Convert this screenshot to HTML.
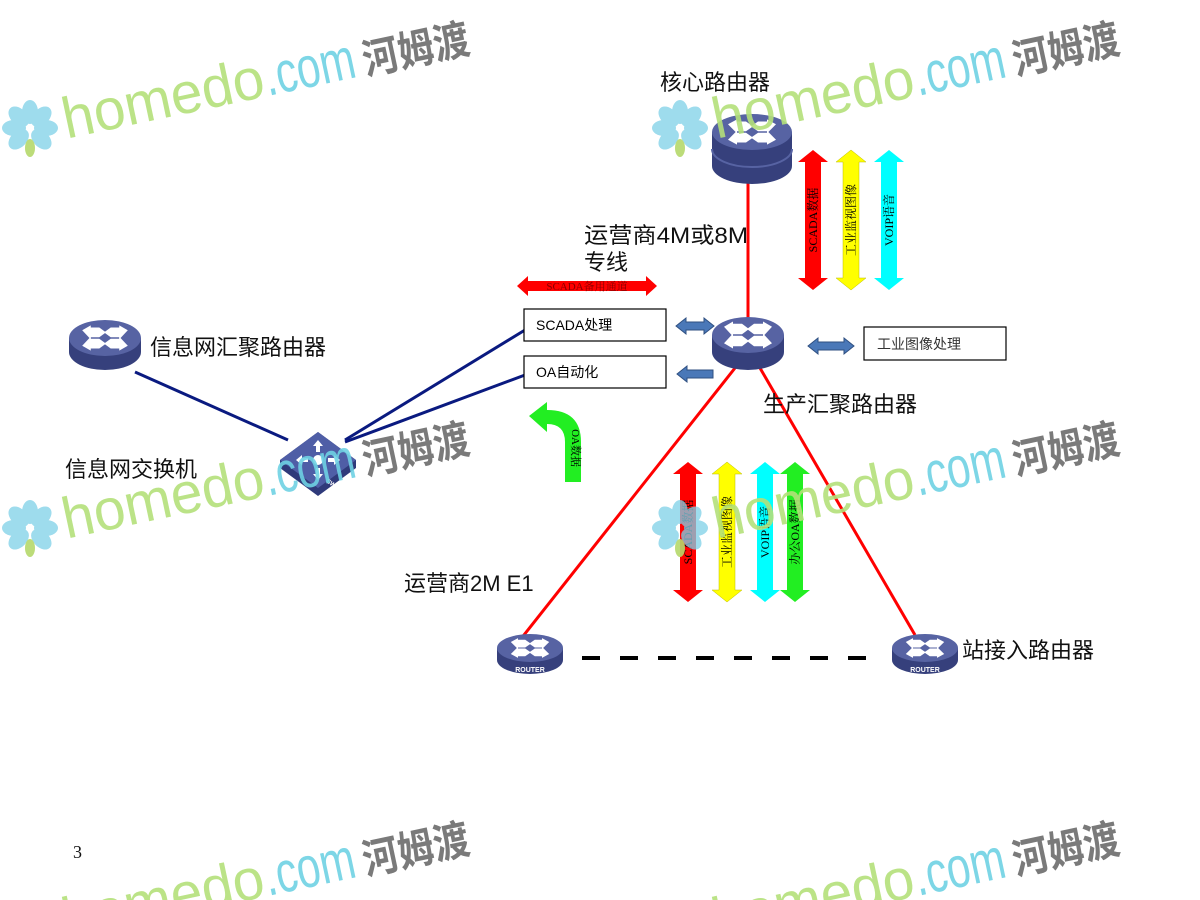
<!DOCTYPE html>
<html><head><meta charset="utf-8"><style>
html,body{margin:0;padding:0;background:#fff;overflow:hidden;width:1200px;height:900px;}
svg{display:block;font-family:"Liberation Sans","Noto Sans CJK SC",sans-serif;}
</style></head><body>
<svg width="1200" height="900" viewBox="0 0 1200 900" xmlns="http://www.w3.org/2000/svg">
<defs>
<g id="xarrows" fill="#fff">
  <path d="M-24,-11 l9,-7 v3 h9 l7,7 l-7,7 h-9 v3 z"/>
  <path d="M24,-11 l-9,-7 v3 h-9 l-7,7 l7,7 h9 v3 z"/>
  <path d="M-24,11 l9,7 v-3 h9 l7,-7 l-7,-7 h-9 v-3 z"/>
  <path d="M24,11 l-9,7 v-3 h-9 l-7,-7 l7,-7 h9 v-3 z"/>
</g>
<g id="dbl">
  <path d="M0,0 l15,12 h-7 v116 h7 l-15,12 l-15,-12 h7 v-116 h-7 z"/>
</g>
<g id="wm">
  <g fill="#7fd0e8" opacity="0.85">
    <ellipse cx="30" cy="112" rx="8" ry="12"/>
    <ellipse cx="30" cy="112" rx="8" ry="12" transform="rotate(45 30 128)"/>
    <ellipse cx="30" cy="112" rx="8" ry="12" transform="rotate(90 30 128)"/>
    <ellipse cx="30" cy="112" rx="8" ry="12" transform="rotate(135 30 128)"/>
    <ellipse cx="30" cy="112" rx="8" ry="12" transform="rotate(-45 30 128)"/>
    <ellipse cx="30" cy="112" rx="8" ry="12" transform="rotate(-90 30 128)"/>
    <ellipse cx="30" cy="112" rx="8" ry="12" transform="rotate(-135 30 128)"/>
  </g>
  <ellipse cx="30" cy="148" rx="5" ry="9" fill="#b5d86a"/>
  <g transform="rotate(-12 70 135)">
    <text x="66" y="138" font-size="58" fill="#b4e07a" textLength="205" lengthAdjust="spacingAndGlyphs">homedo</text>
    <text x="272" y="138" font-size="58" fill="#6fd2e4" textLength="92" lengthAdjust="spacingAndGlyphs">.com</text>
    <text x="372" y="138" font-size="42" font-weight="bold" fill="#6b6b6b" textLength="108" lengthAdjust="spacingAndGlyphs">河姆渡</text>
  </g>
</g>
</defs>

<!-- connectors -->
<line x1="748" y1="175" x2="748" y2="325" stroke="#f00" stroke-width="3"/>
<line x1="735" y1="368" x2="520" y2="640" stroke="#f00" stroke-width="3"/>
<line x1="760" y1="368" x2="915" y2="635" stroke="#f00" stroke-width="3"/>
<line x1="582" y1="658" x2="870" y2="658" stroke="#000" stroke-width="4" stroke-dasharray="18,20"/>
<line x1="135" y1="372" x2="288" y2="440" stroke="#0a1a80" stroke-width="3"/>
<line x1="345" y1="440" x2="525" y2="330" stroke="#0a1a80" stroke-width="3"/>
<line x1="345" y1="442" x2="525" y2="375" stroke="#0a1a80" stroke-width="3"/>

<!-- routers -->
<g transform="translate(752,132)">
  <path d="M-40,0 v34 a40,18 0 0 0 80,0 v-34 z" fill="#36407c"/>
  <path d="M-40,17 a40,18 0 0 0 80,0" fill="none" stroke="#5763a3" stroke-width="2"/>
  <ellipse cx="0" cy="0" rx="40" ry="18" fill="#5763a3"/>
  <use href="#xarrows" transform="scale(1,0.7)"/>
</g>
<g transform="translate(748,335)">
  <path d="M-36,0 v17 a36,18 0 0 0 72,0 v-17 z" fill="#36407c"/>
  <ellipse cx="0" cy="0" rx="36" ry="18" fill="#5763a3"/>
  <use href="#xarrows" transform="scale(1,0.75)"/>
</g>
<g transform="translate(105,338)">
  <path d="M-36,0 v14 a36,18 0 0 0 72,0 v-14 z" fill="#36407c"/>
  <ellipse cx="0" cy="0" rx="36" ry="18" fill="#5763a3"/>
  <use href="#xarrows" transform="scale(0.95,0.7)"/>
</g>
<g transform="translate(530,648)">
  <path d="M-33,0 v12 a33,14 0 0 0 66,0 v-12 z" fill="#36407c"/>
  <ellipse cx="0" cy="0" rx="33" ry="14" fill="#5763a3"/>
  <use href="#xarrows" transform="scale(0.8,0.55)"/>
  <text x="0" y="24" font-size="7" font-weight="bold" fill="#fff" text-anchor="middle">ROUTER</text>
</g>
<g transform="translate(925,648)">
  <path d="M-33,0 v12 a33,14 0 0 0 66,0 v-12 z" fill="#36407c"/>
  <ellipse cx="0" cy="0" rx="33" ry="14" fill="#5763a3"/>
  <use href="#xarrows" transform="scale(0.8,0.55)"/>
  <text x="0" y="24" font-size="7" font-weight="bold" fill="#fff" text-anchor="middle">ROUTER</text>
</g>
<!-- switch -->
<g transform="translate(318,460)">
  <path d="M-38,0 L0,-28 L38,0 L38,8 L0,36 L-38,8 z" fill="#2f3a7a"/>
  <path d="M-38,0 L0,-28 L38,0 L0,28 z" fill="#4f5ea6"/>
  <circle cx="0" cy="0" r="5" fill="#fff"/>
  <path d="M0,-20 l5,6 h-3 v6 h-4 v-6 h-3 z M0,20 l5,-6 h-3 v-6 h-4 v6 h-3 z M-22,0 l6,-5 v3 h6 v4 h-6 v3 z M22,0 l-6,-5 v3 h-6 v4 h6 v3 z" fill="#fff"/>
  <text x="8" y="22" font-size="6" font-weight="bold" fill="#fff" transform="rotate(35 8 22)">SWITCH</text>
</g>

<!-- boxes -->
<rect x="524" y="309" width="142" height="32" fill="#fff" stroke="#000" stroke-width="1.2"/>
<text x="536" y="330" font-size="14">SCADA处理</text>
<rect x="524" y="356" width="142" height="32" fill="#fff" stroke="#000" stroke-width="1.2"/>
<text x="536" y="377" font-size="14">OA自动化</text>
<rect x="864" y="327" width="142" height="33" fill="#fff" stroke="#000" stroke-width="1.2"/>
<text x="877" y="349" font-size="14" fill="#333">工业图像处理</text>

<!-- blue arrows -->
<path d="M676,326 l10,-8 v4 h18 v-4 l10,8 l-10,8 v-4 h-18 v4 z" fill="#4a78b8" stroke="#2f4f80"/>
<path d="M677,374 l10,-8 v4 h26 v8 h-26 v4 z" fill="#4a78b8" stroke="#2f4f80"/>
<path d="M808,346 l10,-8 v4 h26 v-4 l10,8 l-10,8 v-4 h-26 v4 z" fill="#4a78b8" stroke="#2f4f80"/>

<!-- SCADA backup -->
<path d="M517,286 l11,-10 v5 h118 v-5 l11,10 l-11,10 v-5 h-118 v5 z" fill="#f00"/>
<text x="587" y="290" font-size="11" text-anchor="middle" fill="#800" font-family="Liberation Serif,'Noto Serif CJK SC',serif">SCADA备用通道</text>

<!-- green curved arrow -->
<path d="M565,482 v-40 q0,-18 -18,-18 v8 l-18,-16 l18,-14 v8 q34,0 34,32 v40 z" fill="#22ee22"/>
<text transform="translate(572,448) rotate(90)" font-size="11" text-anchor="middle" font-family="Liberation Serif,'Noto Serif CJK SC',serif">OA数据</text>

<!-- vertical arrows -->
<g font-family="Liberation Serif,'Noto Serif CJK SC',serif" font-size="12">
<use href="#dbl" transform="translate(813,150)" fill="#f00"/>
<use href="#dbl" transform="translate(851,150)" fill="#ff0" stroke="#bb0" stroke-width="0.5"/>
<use href="#dbl" transform="translate(889,150)" fill="#0ff"/>
<text transform="translate(817,220) rotate(-90)" text-anchor="middle">SCADA数据</text>
<text transform="translate(855,220) rotate(-90)" text-anchor="middle">工业监视图像</text>
<text transform="translate(893,220) rotate(-90)" text-anchor="middle">VOIP语音</text>

<use href="#dbl" transform="translate(688,462)" fill="#f00"/>
<use href="#dbl" transform="translate(727,462)" fill="#ff0" stroke="#bb0" stroke-width="0.5"/>
<use href="#dbl" transform="translate(765,462)" fill="#0ff"/>
<use href="#dbl" transform="translate(795,462)" fill="#2e2"/>
<text transform="translate(692,532) rotate(-90)" text-anchor="middle">SCADA数据</text>
<text transform="translate(731,532) rotate(-90)" text-anchor="middle">工业监视图像</text>
<text transform="translate(769,532) rotate(-90)" text-anchor="middle">VOIP语音</text>
<text transform="translate(799,532) rotate(-90)" text-anchor="middle">办公OA数据</text>
</g>

<!-- labels -->
<g font-size="22" fill="#111">
<text x="660" y="90">核心路由器</text>
<text x="584" y="243" textLength="164" lengthAdjust="spacingAndGlyphs">运营商4M或8M</text>
<text x="584" y="270">专线</text>
<text x="763" y="412">生产汇聚路由器</text>
<text x="150" y="355">信息网汇聚路由器</text>
<text x="65" y="477">信息网交换机</text>
<text x="404" y="591">运营商2M E1</text>
<text x="962" y="658">站接入路由器</text>
<text x="73" y="858" font-size="18" font-family="Liberation Serif,serif">3</text>
</g>

<!-- watermarks -->
<g opacity="0.9">
<use href="#wm"/>
<use href="#wm" transform="translate(650,0)"/>
<use href="#wm" transform="translate(0,400)"/>
<use href="#wm" transform="translate(650,400)"/>
<use href="#wm" transform="translate(0,800)"/>
<use href="#wm" transform="translate(650,800)"/>
</g>
</svg>
</body></html>
